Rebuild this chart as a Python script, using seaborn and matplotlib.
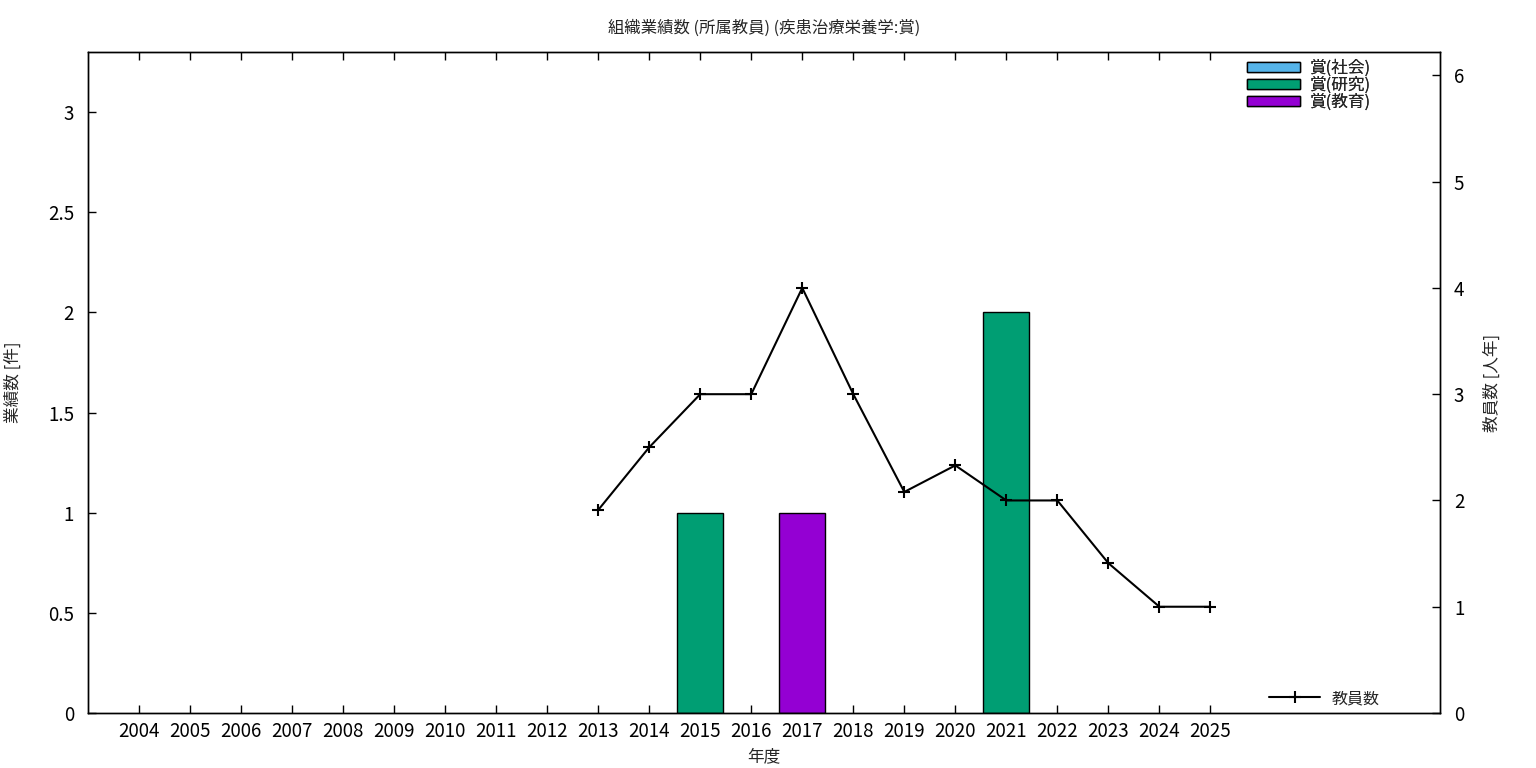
import numpy as np
import pandas as pd
import matplotlib
matplotlib.use("Agg")
import matplotlib.pyplot as plt
import seaborn as sns
from matplotlib.patches import Patch
from matplotlib.lines import Line2D

sns.set_theme(style="white")
plt.rcParams['font.family'] = ['Noto Sans CJK JP', 'DejaVu Sans']

years = list(range(2004, 2026))
award_social = [0]*22
award_research = [0,0,0,0,0,0,0,0,0,0,0,1,0,0,0,0,0,2,0,0,0,0]
award_education = [0,0,0,0,0,0,0,0,0,0,0,0,0,1,0,0,0,0,0,0,0,0]
staff = [np.nan]*9 + [1.91, 2.5, 3.0, 3.0, 4.0, 3.0, 2.08, 2.33, 2.0, 2.0, 1.41, 1.0, 1.0]

series_names = ["賞(社会)", "賞(研究)", "賞(教育)"]
series_vals = [award_social, award_research, award_education]
colors = ["#56b4e9", "#009e73", "#9400d3"]

title = "組織業績数 (所属教員) (疾患治療栄養学:賞)"
xlabel = "年度"
ylabel_left = "業績数 [件]"
ylabel_right = "教員数 [人年]"
line_label = "教員数"

idx = np.arange(len(years))
rows = []
for name, vals in zip(series_names, series_vals):
    for i, v in zip(idx, vals):
        rows.append({"x": int(i), "cat": name, "val": v})
df = pd.DataFrame(rows)

fig = plt.figure(figsize=(15.36, 7.68), dpi=100)
ax = fig.add_axes([88/1536, 55/768, (1440-88)/1536, (713-52)/768])

# stacked bars: compute bottoms
bottom = np.zeros(len(years))
for name, vals, c in zip(series_names, series_vals, colors):
    sub = df[(df["cat"] == name) & (df["val"] > 0)]
    if len(sub):
        b = bottom[sub["x"].values]
        sns.barplot(data=sub, x="x", y="val", order=list(idx), ax=ax,
                    color=c, saturation=1, width=0.9, edgecolor="black",
                    linewidth=1, bottom=b, errorbar=None)
    bottom = bottom + np.array(vals)

ax.set_xlim(-1, 25.5)
ax.set_ylim(0, 3.3)
ax.set_xticks(idx)
ax.set_xticklabels([str(y) for y in years], fontsize=13.5)
ax.set_yticks([0, 0.5, 1, 1.5, 2, 2.5, 3])
ax.set_yticklabels(["0", "0.5", "1", "1.5", "2", "2.5", "3"], fontsize=13.5)
ax.tick_params(axis="x", direction="in", length=6, width=1, top=True, bottom=True, pad=6, colors="black")
ax.tick_params(axis="y", direction="in", length=6, width=1, left=True, right=False, pad=10, colors="black")
ax.set_xlabel(xlabel, fontsize=12)
ax.xaxis.set_label_coords(0.5, -0.053)
ax.set_ylabel(ylabel_left, fontsize=12)
ax.yaxis.set_label_coords(-0.0488, 0.5)
for s in ax.spines.values():
    s.set_color("black")
    s.set_linewidth(1)

ax2 = ax.twinx()
ldf = pd.DataFrame({"x": idx, "staff": staff}).dropna()
sns.lineplot(data=ldf, x="x", y="staff", ax=ax2, color="black", marker="+",
             markersize=9, markeredgewidth=1.5, markeredgecolor="black", linewidth=1.5)
ax2.set_ylim(0, 6.22)
ax2.set_xlim(-1, 25.5)
ax2.set_yticks([0, 1, 2, 3, 4, 5, 6])
ax2.set_yticklabels([str(v) for v in range(7)], fontsize=13.5)
ax2.tick_params(axis="y", direction="in", length=6, width=1, right=True, pad=10, colors="black")
ax2.set_ylabel(ylabel_right, fontsize=12)
ax2.yaxis.set_label_coords(1.0325, 0.5)
ax2.set_xlabel("")
for s in ax2.spines.values():
    s.set_color("black")
    s.set_linewidth(1)

ax.set_title(title, fontsize=11.8, pad=14)

handles = [Patch(facecolor=c, edgecolor="black", linewidth=1) for c in colors]
leg1 = ax.legend(handles, series_names, loc="upper right", bbox_to_anchor=(0.959, 1.009),
                 frameon=False, fontsize=12, handlelength=3.2, handleheight=0.55,
                 labelspacing=0.0, handletextpad=0.6, borderpad=0.3)
ax.add_artist(leg1)
lh = [Line2D([0], [0], color="black", marker="+", markersize=9, markeredgewidth=1.5, linewidth=1.5)]
ax2.legend(lh, [line_label], loc="lower right", bbox_to_anchor=(0.967, -0.015),
           frameon=False, fontsize=11.5, handlelength=3.2, handletextpad=0.7, borderpad=0.5)

fig.savefig("out.png", dpi=100)
